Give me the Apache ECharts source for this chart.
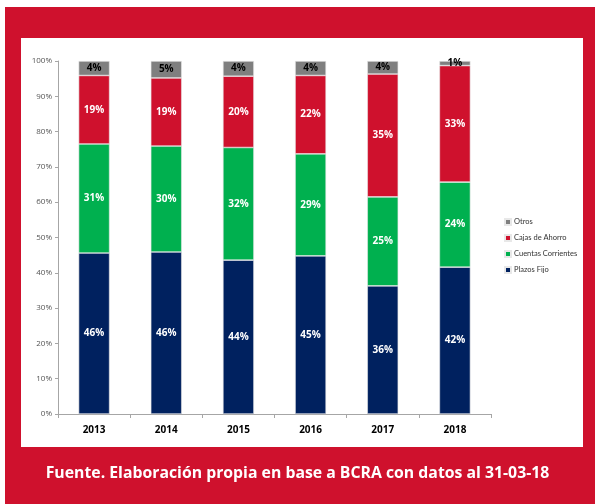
<!DOCTYPE html>
<html>
<head>
<meta charset="utf-8">
<script src="https://cdn.jsdelivr.net/npm/echarts@6/dist/echarts.min.js"></script>
<style>
  html, body { margin: 0; padding: 0; background: #fff; }
  #chart { width: 595px; height: 504px; }
</style>
</head>
<body>
<div id="chart"></div>
<script>
const years = ['2013', '2014', '2015', '2016', '2017', '2018'];
const plazosFijo = [45.6, 45.9, 43.6, 44.8, 36.3, 41.6];
const cuentasCorrientes = [30.9, 30.0, 31.9, 28.9, 25.2, 24.1];
const cajasAhorro = [19.4, 19.3, 20.2, 22.2, 34.8, 33.0];
const otros = [4.1, 4.8, 4.3, 4.1, 3.7, 1.3];
const yTicks = [0, 10, 20, 30, 40, 50, 60, 70, 80, 90, 100];

const red = '#cf112d';

const labelWhite = {
  show: true,
  color: '#fff',
  fontFamily: 'Open Sans',
  fontWeight: 'bold',
  fontSize: 10,
  formatter: p => Math.round(p.value) + '%'
};

function bar(name, data, color, label) {
  return {
    name: name,
    type: 'bar',
    stack: 'total',
    data: data,
    barWidth: 31,
    itemStyle: { color: color, borderColor: '#e8e8e8', borderWidth: 0.6 },
    label: label
  };
}

const chart = echarts.init(document.getElementById('chart'));
chart.setOption({
  animation: false,
  backgroundColor: '#fff',
  graphic: [
    { type: 'rect', z: -10, shape: { x: 5, y: 7, width: 590, height: 497 }, style: { fill: red } },
    { type: 'rect', z: -9, shape: { x: 21, y: 38, width: 562, height: 409 }, style: { fill: '#fff' } },
    {
      type: 'text', left: 'center', top: 465,
      style: {
        text: 'Fuente. Elaboración propia en base a BCRA con datos al 31-03-18',
        fill: '#fff', font: 'bold 15.8px "Open Sans"'
      }
    }
  ],
  grid: { left: 58, right: 104, top: 61, bottom: 90 },
  legend: {
    orient: 'vertical',
    left: 499,
    top: 213,
    itemWidth: 6,
    itemHeight: 6,
    itemGap: 8,
    icon: 'rect',
    data: ['Otros', 'Cajas de Ahorro', 'Cuentas Corrientes', 'Plazos Fijo'],
    textStyle: { fontFamily: 'Lato', fontSize: 7.5, color: '#333', padding: [0, 0, 0, -2] }
  },
  xAxis: {
    type: 'category',
    data: years,
    axisLine: { lineStyle: { color: '#a6a6a6' } },
    axisTick: { show: true, lineStyle: { color: '#a6a6a6' }, length: 4 },
    axisLabel: { color: '#000', fontFamily: 'Open Sans', fontWeight: 'bold', fontSize: 10, margin: 11 }
  },
  yAxis: {
    type: 'value',
    min: 0,
    max: 100,
    interval: 10,
    splitLine: { show: false },
    axisLine: { show: true, lineStyle: { color: '#a6a6a6' } },
    axisTick: { show: true, lineStyle: { color: '#a6a6a6' }, length: 3 },
    axisLabel: {
      color: '#555', fontFamily: 'Open Sans', fontSize: 8, margin: 6,
      formatter: v => yTicks.includes(v) ? v + '%' : ''
    }
  },
  series: [
    bar('Plazos Fijo', plazosFijo, '#00215f', labelWhite),
    bar('Cuentas Corrientes', cuentasCorrientes, '#00b04f', labelWhite),
    bar('Cajas de Ahorro', cajasAhorro, '#cf112d', labelWhite),
    bar('Otros', otros, '#7f7f7f', Object.assign({}, labelWhite, { color: '#000' }))
  ]
});
</script>
</body>
</html>
